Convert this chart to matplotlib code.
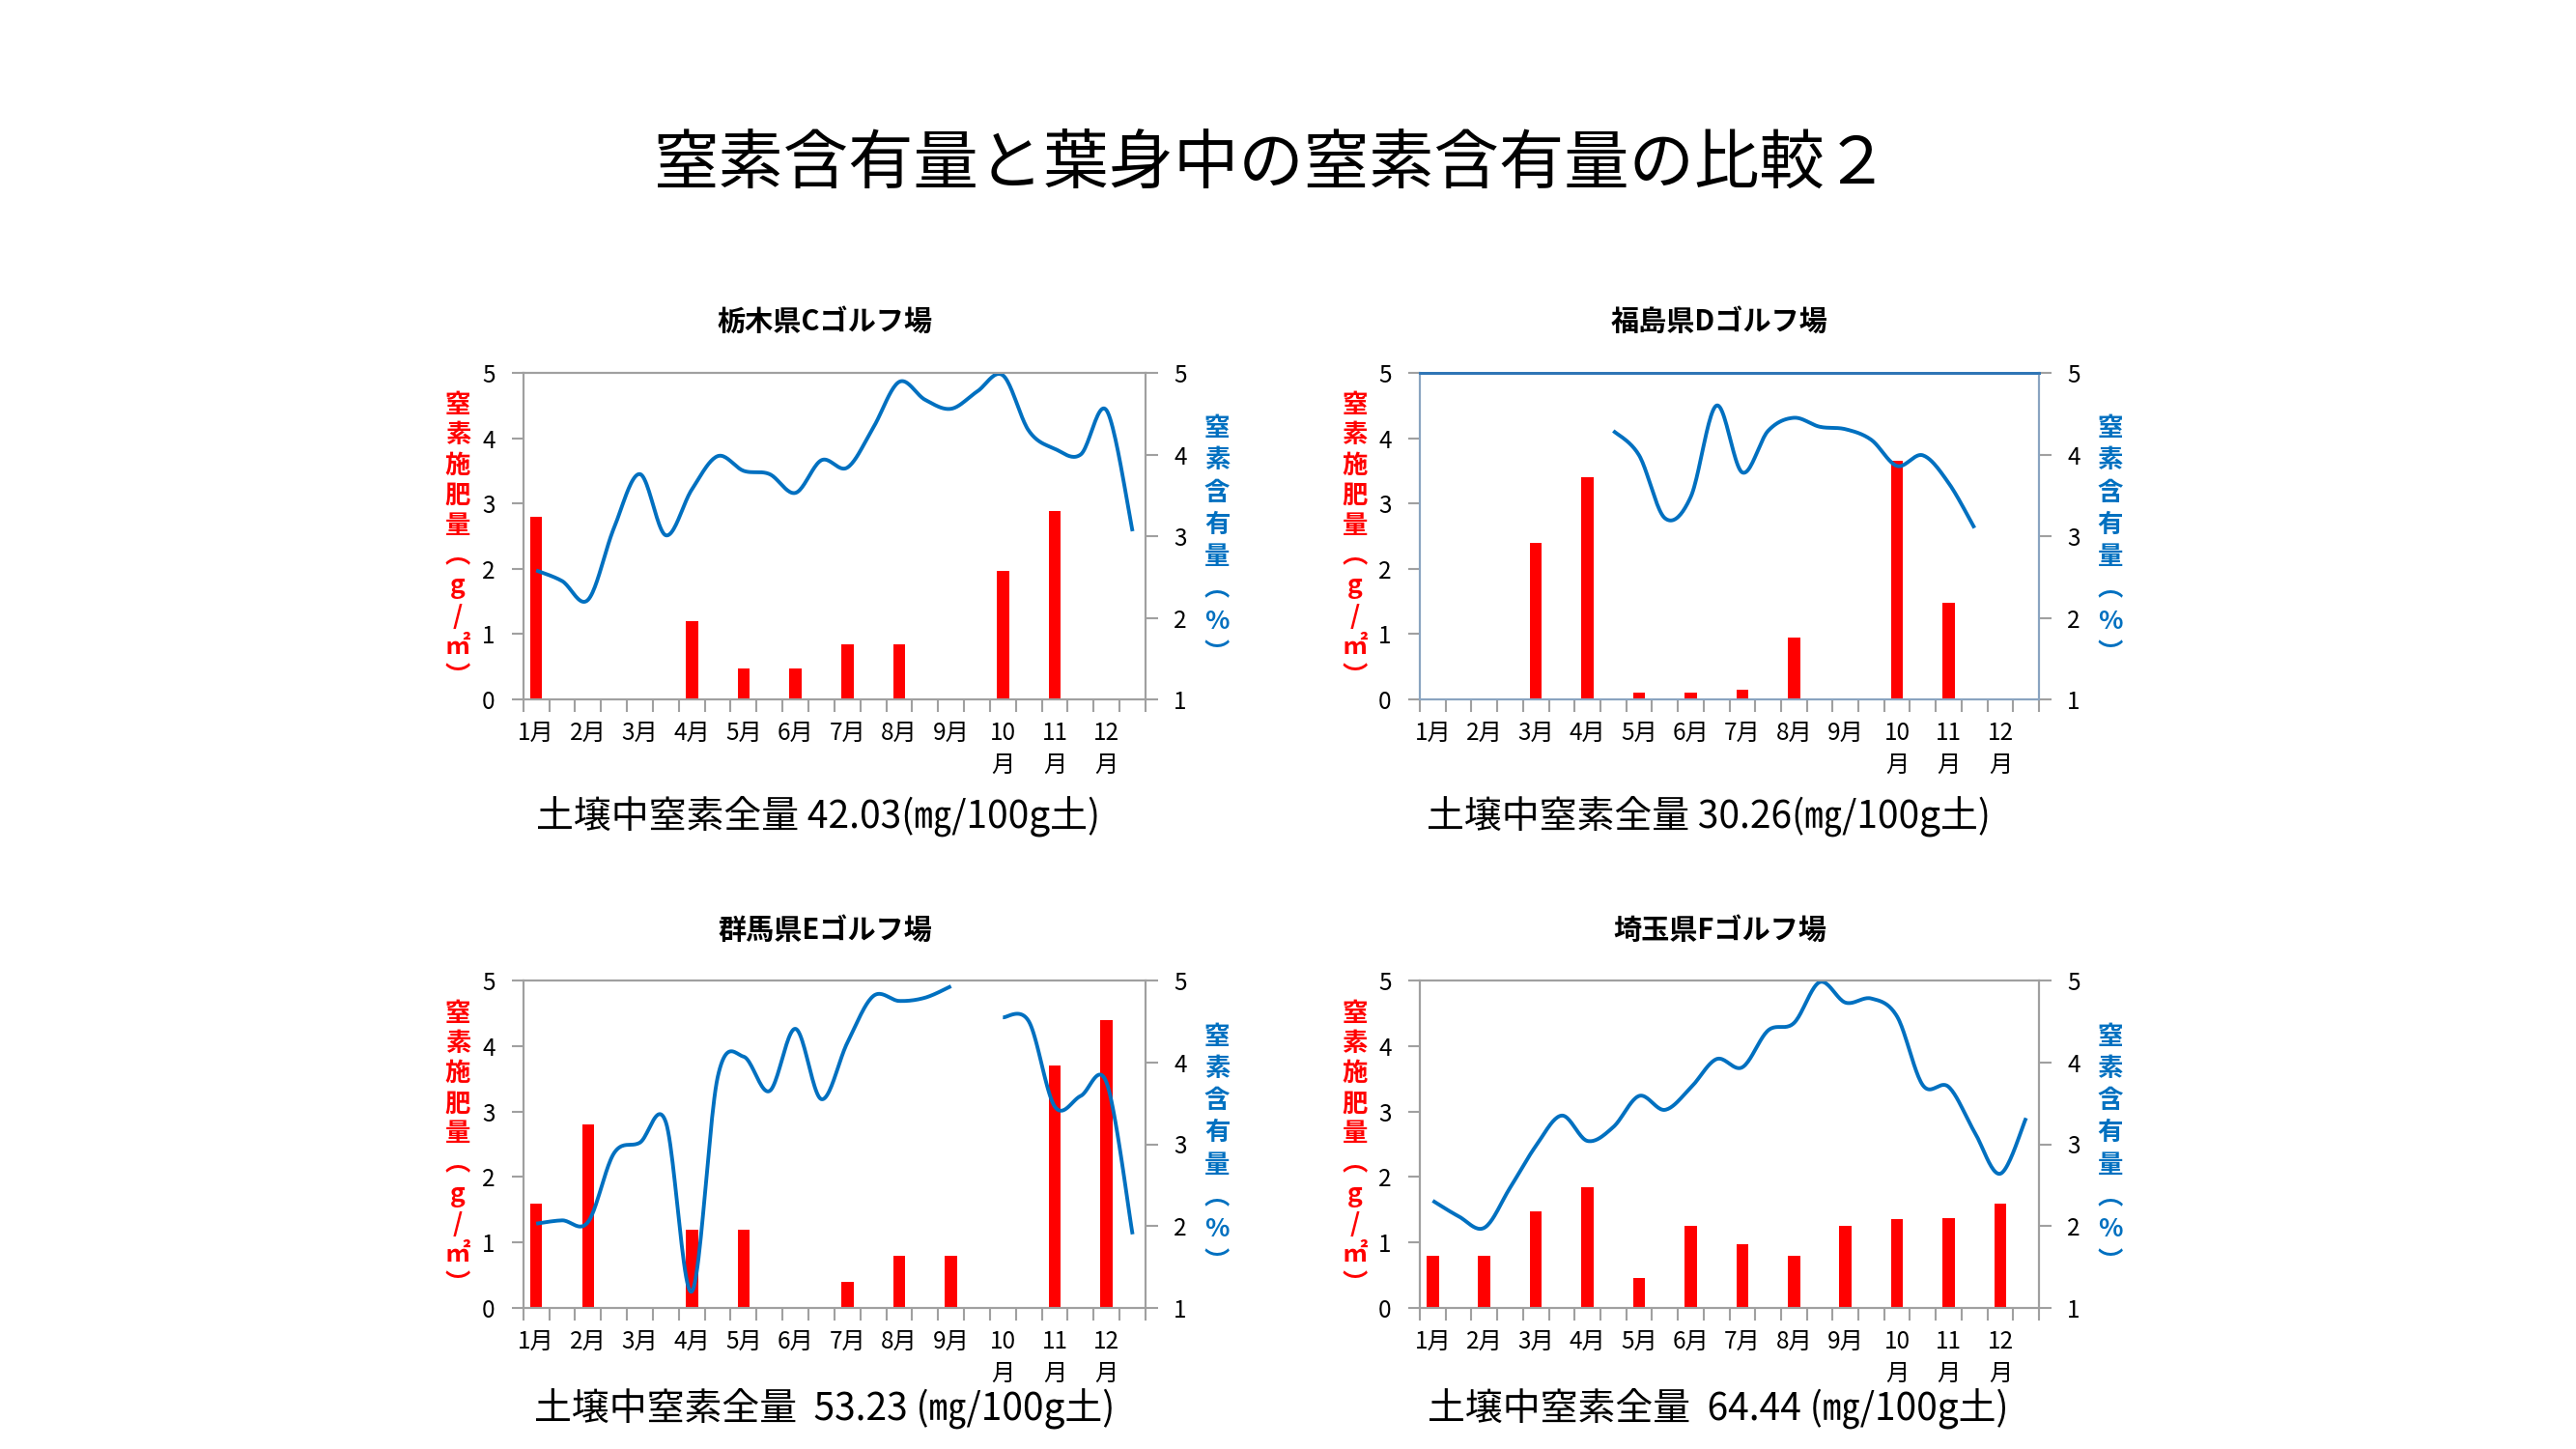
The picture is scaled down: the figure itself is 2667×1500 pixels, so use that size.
import numpy as np
import matplotlib.pyplot as plt

plt.rcParams['font.family'] = ['Noto Sans CJK JP', 'DejaVu Sans']

nan = np.nan

# half-month categories: 24 slots, bars sit on the first half of each month
month_labels = ['1月', '2月', '3月', '4月', '5月', '6月', '7月', '8月', '9月',
                '10\n月', '11\n月', '12\n月']

titles = ['栃木県Cゴルフ場', '福島県Dゴルフ場', '群馬県Eゴルフ場', '埼玉県Fゴルフ場']
soil_notes = ['土壌中窒素全量 42.03(㎎/100g土)',
              '土壌中窒素全量 30.26(㎎/100g土)',
              '土壌中窒素全量  53.23 (㎎/100g土)',
              '土壌中窒素全量  64.44 (㎎/100g土)']

# fertilizer N (g/m2) per month
fert_c = [2.8, 0, 0, 1.2, 0.47, 0.47, 0.85, 0.85, 0, 1.97, 2.88, 0]
fert_d = [0, 0, 2.4, 3.4, 0.1, 0.1, 0.15, 0.95, 0, 3.65, 1.48, 0]
fert_e = [1.6, 2.8, 0, 1.2, 1.2, 0, 0.4, 0.8, 0.8, 0, 3.7, 4.4]
fert_f = [0.8, 0.8, 1.47, 1.85, 0.46, 1.26, 0.97, 0.79, 1.26, 1.36, 1.37, 1.6]

# leaf N content (%) per half month
leaf_c = [2.58, 2.45, 2.22, 3.10, 3.76, 3.01, 3.57, 3.98, 3.80, 3.76, 3.53, 3.93,
          3.84, 4.33, 4.89, 4.67, 4.56, 4.77, 4.97, 4.29, 4.07, 4.00, 4.54, 3.06]
leaf_d = [nan, nan, nan, nan, nan, nan, nan, 4.29, 3.99, 3.22, 3.48, 4.60,
          3.78, 4.29, 4.45, 4.34, 4.31, 4.18, 3.86, 3.99, 3.65, 3.10, nan, nan]
leaf_e = [2.03, 2.07, 2.05, 2.89, 3.02, 3.27, 1.20, 3.82, 4.07, 3.65, 4.41, 3.55,
          4.24, 4.81, 4.75, 4.79, 4.93, nan, 4.55, 4.50, 3.46, 3.59, 3.75, 1.90]
leaf_f = [2.31, 2.12, 1.98, 2.47, 2.98, 3.35, 3.04, 3.21, 3.59, 3.42, 3.69, 4.04,
          3.94, 4.39, 4.48, 4.98, 4.73, 4.78, 4.56, 3.72, 3.70, 3.15, 2.64, 3.32]

ferts = [fert_c, fert_d, fert_e, fert_f]
leafs = [leaf_c, leaf_d, leaf_e, leaf_f]


def smooth_runs(y, steps=24):
    # Excel style smoothed line (Catmull-Rom bezier) through each unbroken run
    y = np.asarray(y, dtype=float)
    x = np.arange(len(y), dtype=float)
    runs, cur = [], []
    for i in range(len(y)):
        if np.isnan(y[i]):
            if cur:
                runs.append(cur)
            cur = []
        else:
            cur.append(i)
    if cur:
        runs.append(cur)
    out = []
    for r in runs:
        px, py = x[r], y[r]
        if len(r) < 2:
            continue
        px = np.concatenate([[px[0]], px, [px[-1]]])
        py = np.concatenate([[py[0]], py, [py[-1]]])
        xs, ys = [], []
        t = np.linspace(0, 1, steps)
        for k in range(1, len(px) - 2):
            p0, p1, p2, p3 = [np.array([px[j], py[j]]) for j in (k - 1, k, k + 1, k + 2)]
            c1 = p1 + (p2 - p0) / 6
            c2 = p2 - (p3 - p1) / 6
            b = ((1 - t) ** 3)[:, None] * p1 + (3 * (1 - t) ** 2 * t)[:, None] * c1 \
                + (3 * (1 - t) * t ** 2)[:, None] * c2 + (t ** 3)[:, None] * p2
            xs.extend(b[:, 0])
            ys.extend(b[:, 1])
        out.append((np.array(xs), np.array(ys)))
    return out


fig = plt.figure(figsize=(26.67, 15), dpi=100)
fig.text(0.494, 0.886, '窒素含有量と葉身中の窒素含有量の比較２', ha='center', va='center',
         fontsize=48.5)

W, H = 2667, 1500
boxes = [(541.7, 386, 1186, 724), (1470, 386, 2111, 724),
         (541.7, 1015, 1186, 1354), (1470, 1015, 2111, 1354)]
title_y = [333, 333, 963, 963]
note_pos = [(847, 845), (1769, 845), (854, 1458), (1779, 1458)]

gray = '#a0a0a0'
blue = '#0070c0'

for n in range(4):
    l, t, r, b = boxes[n]
    ax = fig.add_axes([l / W, 1 - b / H, (r - l) / W, (b - t) / H])
    ax2 = ax.twinx()

    bar_x = np.arange(0, 24, 2)
    ax.bar(bar_x, ferts[n], width=0.47, color='#ff0000', zorder=2)
    ax.set_ylim(0, 5)
    ax.set_xlim(-0.5, 23.5)
    ax.set_yticks(range(6))

    for sx, sy in smooth_runs(leafs[n]):
        ax2.plot(sx, sy, color=blue, lw=2.8, solid_capstyle='butt')
    ax2.set_ylim(1, 5)
    ax2.set_yticks(range(1, 6))

    ax.set_xticks(np.arange(-0.5, 24, 1))
    ax.set_xticklabels([])
    ax.set_xticks(bar_x, minor=True)
    ax.set_xticklabels(month_labels, minor=True)
    ax.tick_params(axis='x', which='major', length=9, width=1.5, color=gray, direction='out')
    ax.tick_params(axis='x', which='minor', length=0, pad=16, labelsize=17.5)
    for lbl in ax.get_xticklabels(minor=True):
        lbl.set_linespacing(1.35)
    ax.tick_params(axis='y', length=9, width=1.5, color=gray, pad=12, labelsize=17.5)
    ax2.tick_params(axis='y', length=9, width=1.5, color=gray, pad=12, labelsize=17.5)

    for a in (ax, ax2):
        for s in a.spines.values():
            s.set_color(gray)
            s.set_linewidth(1.5)
    if n == 1:
        for a in (ax, ax2):
            for side in ('left', 'bottom', 'right'):
                a.spines[side].set_color('#8aa4c0')
            a.spines['top'].set_color('#2e75b6')
            a.spines['top'].set_linewidth(2)

    ax.text(-0.105, 0.485, '\n'.join(['窒', '素', '施', '肥', '量', '︵', 'g', '/', '㎡', '︶']),
            transform=ax.transAxes, ha='center', va='center', color='#ff0000',
            fontsize=19, fontweight='bold', linespacing=1.2)
    ax.text(1.115, 0.485, '\n'.join(['窒', '素', '含', '有', '量', '︵', '%', '︶']),
            transform=ax.transAxes, ha='center', va='center', color=blue,
            fontsize=19, fontweight='bold', linespacing=1.3)

    fig.text(((l + r) / 2 - 10) / W, 1 - title_y[n] / H, titles[n], ha='center', va='center',
             fontsize=21, fontweight='bold')
    fig.text(note_pos[n][0] / W, 1 - note_pos[n][1] / H, soil_notes[n], ha='center',
             va='center', fontsize=28)

fig.savefig('out.png', dpi=100)
